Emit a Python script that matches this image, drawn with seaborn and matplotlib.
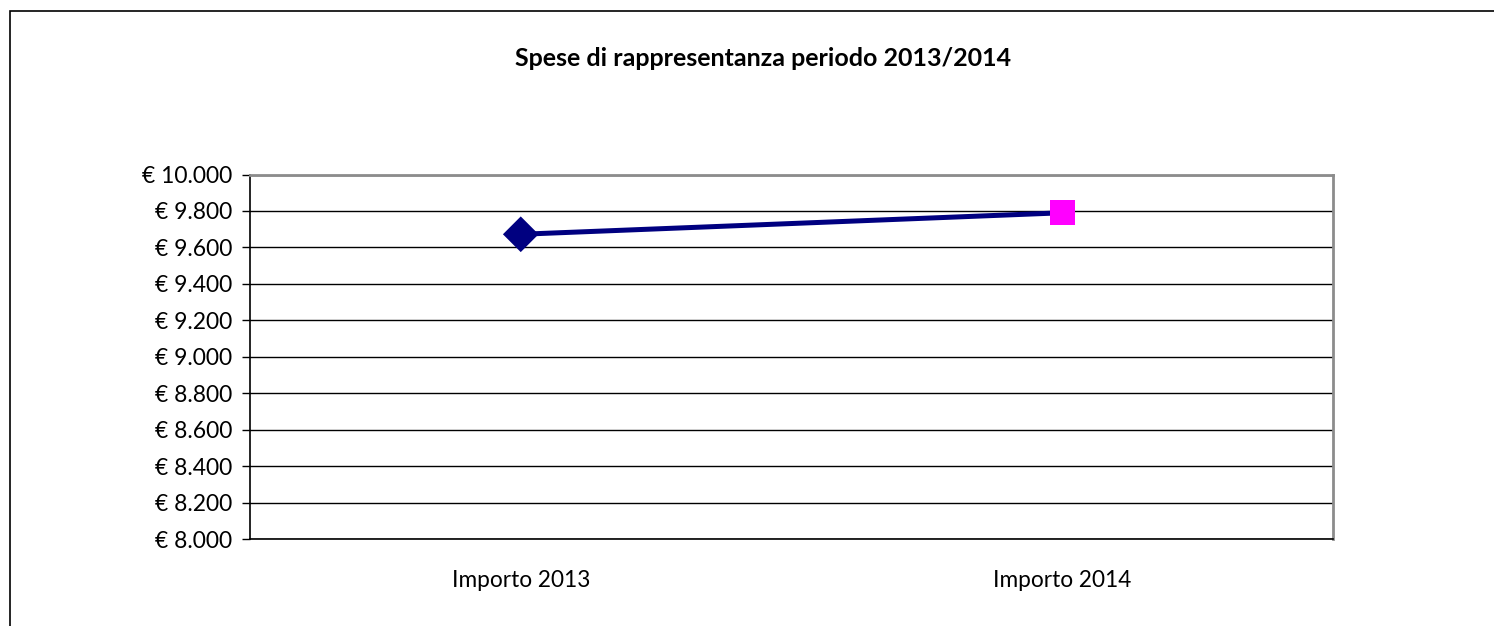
import matplotlib
matplotlib.use("Agg")
import matplotlib.pyplot as plt
import matplotlib.ticker as mticker
import pandas as pd
import seaborn as sns

# ── data ─────────────────────────────────────────────────────────────────────

categories = ["Importo 2013", "Importo 2014"]
values = [9672, 9790]
marker_colors = ["#000080", "#FF00FF"]
marker_shapes = ["D", "s"]
title = "Spese di rappresentanza periodo 2013/2014"

df = pd.DataFrame({"cat": categories, "x": range(len(categories)), "val": values})

# ── style ────────────────────────────────────────────────────────────────────

sns.set_theme(style="white")
plt.rcParams["font.family"] = ["Lato", "DejaVu Sans"]
plt.rcParams["text.color"] = "black"
plt.rcParams["xtick.color"] = "black"
plt.rcParams["ytick.color"] = "black"

fig = plt.figure(figsize=(14.94, 6.26), dpi=100)
ax = fig.add_axes([250 / 1494, 1 - 539 / 626, 1083 / 1494, 364.5 / 626])

# outer chart frame (right/bottom edges fall outside the image)
fig.add_artist(plt.Rectangle((9.5 / 1494, -0.5), 2, 0.5 + (626 - 10.5) / 626,
                             transform=fig.transFigure, fill=False,
                             edgecolor="black", linewidth=1.2))

# ── plot ─────────────────────────────────────────────────────────────────────

sns.lineplot(data=df, x="x", y="val", color="#000080", linewidth=3.6, ax=ax, zorder=3)
sns.scatterplot(data=df, x="x", y="val", hue="cat", style="cat",
                palette=dict(zip(categories, marker_colors)),
                markers=dict(zip(categories, marker_shapes)),
                s=330, edgecolor="none", legend=False, ax=ax, zorder=4)

ax.set_xlim(-0.5, len(categories) - 0.5)
ax.set_ylim(8000, 10000)
ax.yaxis.set_major_locator(mticker.MultipleLocator(200))
ax.yaxis.set_major_formatter(mticker.FuncFormatter(
    lambda v, p: "€ " + f"{int(v):,}".replace(",", ".")))
ax.set_xticks(range(len(categories)))
ax.set_xticklabels(categories)
ax.set_xticks([-0.5, 0.5, 1.5], minor=True)
ax.tick_params(axis="x", which="major", length=0, pad=22, labelsize=16.3)
ax.tick_params(axis="x", which="minor", length=6, width=1, color="black", direction="out")
ax.tick_params(axis="y", length=6, width=1, color="black", direction="out",
               labelsize=16.5, pad=7, left=True)
ax.set_xlabel("")
ax.set_ylabel("")

ax.grid(axis="y", color="black", linewidth=1)
ax.set_axisbelow(True)
for side in ["top", "right"]:
    ax.spines[side].set_color("#8C8C8C")
    ax.spines[side].set_linewidth(2)
for side in ["left", "bottom"]:
    ax.spines[side].set_color("black")
    ax.spines[side].set_linewidth(1.2)

fig.text(763 / 1494, 1 - 58 / 626, title, ha="center", va="center",
         fontsize=18, fontweight="bold")

fig.savefig("out.png", dpi=100)
